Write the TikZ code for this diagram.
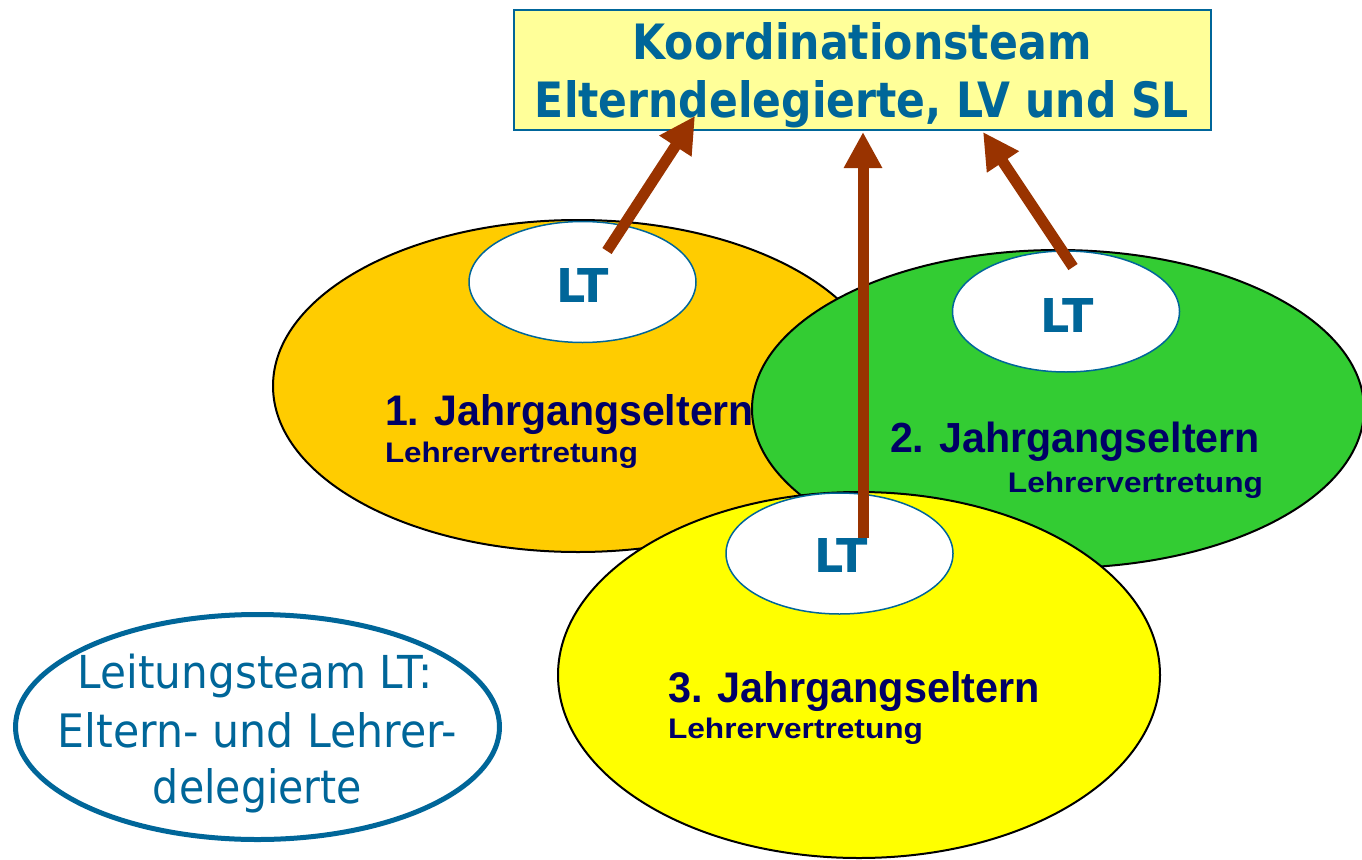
\documentclass[tikz,border=0pt]{standalone}
\usepackage{fontspec}
\usepackage{graphicx}
\setmainfont{DejaVu Sans}
\newfontfamily\jfont{Liberation Sans}
\usetikzlibrary{shapes.geometric,arrows.meta}
\definecolor{tblue}{HTML}{006699}
\definecolor{navy}{HTML}{000066}
\definecolor{orng}{HTML}{FFCC00}
\definecolor{grn}{HTML}{33CC33}
\definecolor{ylw}{HTML}{FFFF00}
\definecolor{lylw}{HTML}{FFFF99}
\definecolor{brwn}{HTML}{993300}
\newcommand\fitto[3]{\resizebox{#1pt}{#2pt}{#3}}
\begin{document}
\begin{tikzpicture}[x=1pt,y=-1pt,
  big/.style={ellipse, draw=black, line width=2pt, inner sep=0pt},
  ltell/.style={ellipse, draw=tblue, fill=white, line width=1.5pt, inner sep=0pt, minimum width=227pt, minimum height=121pt},
  jtxt/.style={inner sep=0pt, outer sep=0pt, text=navy, font=\jfont\bfseries},
  ltlabel/.style={inner sep=0pt, outer sep=0pt, text=tblue, anchor=base, font=\bfseries},
  legtxt/.style={inner sep=0pt, outer sep=0pt, text=tblue, anchor=base},
  titletxt/.style={inner sep=0pt, outer sep=0pt, text=tblue, anchor=base, font=\bfseries},
  upar/.style={draw=brwn, line width=11pt, -{Triangle[width=36pt,length=36pt]}}]
\useasboundingbox (0,0) rectangle (1362,859);

% 1st year
\node[big, fill=orng, minimum width=610pt, minimum height=332pt] (g1) at (578,386) {};
\node[jtxt, anchor=base west] (g1t) at (385,425) {\fitto{369}{31}{1. Jahrgangseltern}};
\node[jtxt, anchor=base west] (g1l) at (385,462) {\fitto{253}{20.5}{Lehrervertretung}};
\node[ltell] (lt1) at (582.5,282) {};
\node[ltlabel] (lt1t) at (582.5,302) {\fitto{53}{34}{LT}};

% 2nd year
\node[big, fill=grn, minimum width=612pt, minimum height=318pt] (g2) at (1058,409) {};
\node[jtxt, anchor=base west] (g2t) at (890,452) {\fitto{370}{30.5}{2. Jahrgangseltern}};
\node[jtxt, anchor=base east] (g2l) at (1263,492) {\fitto{255}{20.5}{Lehrervertretung}};
\node[ltell] (lt2) at (1066,311.5) {};
\node[ltlabel] (lt2t) at (1067,332) {\fitto{53}{34}{LT}};

% 3rd year
\node[big, fill=ylw, minimum width=602pt, minimum height=366pt] (g3) at (859,675) {};
\node[jtxt, anchor=base west] (g3t) at (668,702) {\fitto{372}{31}{3. Jahrgangseltern}};
\node[jtxt, anchor=base west] (g3l) at (668,738) {\fitto{255}{20.5}{Lehrervertretung}};
\node[ltell] (lt3) at (839.5,553.5) {};
\node[ltlabel] (lt3t) at (841,572) {\fitto{53}{34}{LT}};

% coordination team
\node[draw=tblue, fill=lylw, line width=2pt, minimum width=697pt, minimum height=120pt, inner sep=0pt] (kt) at (862.5,70) {};
\node[titletxt] (kt1) at (862,60) {\fitto{459}{37}{Koordinationsteam}};
\node[titletxt] (kt2) at (862,117) {\fitto{654}{37}{Elterndelegierte, LV und SL}};

% arrows
\coordinate (a1s) at (607,251); \coordinate (a1e) at (695,116);
\coordinate (a2s) at (863,538); \coordinate (a2e) at (863,132);
\coordinate (a3s) at (1073,267); \coordinate (a3e) at (983,132);
\draw[upar] (a1s) -- (a1e);
\draw[upar] (a2s) -- (a2e);
\draw[upar] (a3s) -- (a3e);

% legend
\node[ellipse, draw=tblue, line width=5pt, minimum width=484pt, minimum height=225pt, inner sep=0pt] (leg) at (257.5,727) {};
\node[legtxt] (leg1) at (255.5,688) {\fitto{355}{34.5}{Leitungsteam LT:}};
\node[legtxt] (leg2) at (257.5,747) {\fitto{399}{35}{Eltern- und Lehrer-}};
\node[legtxt] (leg3) at (257.5,803) {\fitto{209}{35}{delegierte}};
\end{tikzpicture}
\end{document}
